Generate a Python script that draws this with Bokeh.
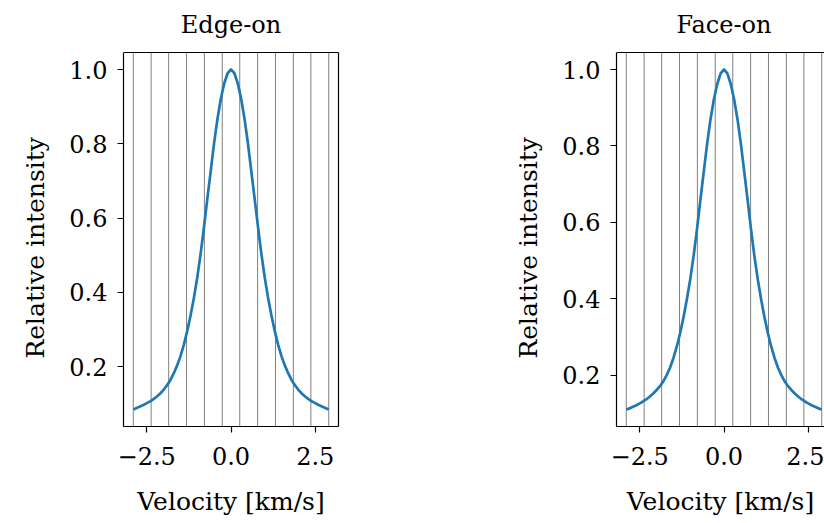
from bokeh.plotting import figure
from bokeh.layouts import row
from bokeh.models import LinearAxis, FixedTicker, Range1d, Label, Title
from bokeh.embed import file_html
from bokeh.resources import INLINE

# ---------------- data ----------------
velocity = [-2.9, -2.8, -2.7, -2.6, -2.5, -2.4, -2.3, -2.2, -2.1, -2.0,
            -1.9, -1.8, -1.7, -1.6, -1.5, -1.4, -1.3, -1.2, -1.1, -1.0,
            -0.9, -0.8, -0.7, -0.6, -0.5, -0.4, -0.3, -0.2, -0.1, 0.0,
            0.1, 0.2, 0.3, 0.4, 0.5, 0.6, 0.7, 0.8, 0.9, 1.0,
            1.1, 1.2, 1.3, 1.4, 1.5, 1.6, 1.7, 1.8, 1.9, 2.0,
            2.1, 2.2, 2.3, 2.4, 2.5, 2.6, 2.7, 2.8, 2.9]

edge_on = [0.085, 0.089, 0.093, 0.097, 0.102, 0.107, 0.113, 0.120, 0.128, 0.138,
           0.150, 0.164, 0.182, 0.203, 0.228, 0.259, 0.296, 0.338, 0.386, 0.441,
           0.505, 0.577, 0.654, 0.728, 0.803, 0.868, 0.922, 0.963, 0.990, 1.000,
           0.990, 0.963, 0.922, 0.868, 0.803, 0.728, 0.654, 0.577, 0.505, 0.441,
           0.386, 0.338, 0.296, 0.259, 0.228, 0.203, 0.182, 0.164, 0.150, 0.138,
           0.128, 0.120, 0.113, 0.107, 0.102, 0.097, 0.093, 0.089, 0.085]

face_on = [0.110, 0.113, 0.117, 0.121, 0.126, 0.131, 0.137, 0.144, 0.152, 0.161,
           0.171, 0.184, 0.200, 0.220, 0.245, 0.275, 0.311, 0.352, 0.399, 0.452,
           0.513, 0.583, 0.659, 0.733, 0.806, 0.870, 0.922, 0.962, 0.990, 1.000,
           0.990, 0.962, 0.922, 0.870, 0.806, 0.733, 0.659, 0.583, 0.513, 0.452,
           0.399, 0.352, 0.311, 0.275, 0.245, 0.220, 0.200, 0.184, 0.171, 0.161,
           0.152, 0.144, 0.137, 0.131, 0.126, 0.121, 0.117, 0.113, 0.110]

channel_edges = [-2.9, -2.37, -1.85, -1.32, -0.79, -0.26, 0.26, 0.79, 1.32, 1.85, 2.37, 2.9]

x_ticks = [-2.5, 0.0, 2.5]
x_tick_labels = ["\u22122.5", "0.0", "2.5"]
y_ticks = [0.2, 0.4, 0.6, 0.8, 1.0]
y_tick_labels = ["0.2", "0.4", "0.6", "0.8", "1.0"]

titles = ["Edge-on", "Face-on"]
x_label = "Velocity [km/s]"
y_label = "Relative intensity"

# ---------------- style ----------------
FONT = "DejaVu Serif"
FS = "24px"
LFS = "25px"
LINE_COLOR = "#1f77b4"
SPINE_W = 1.2
H = 523
BOTTOM = 97
BOX_TOP = 52          # pixels between canvas top and the top spine
FRAME_W = 215
FRAME_H = H - BOTTOM - BOX_TOP


def make_panel(title, vel, inten, width, border_left, border_right, frame_w,
               right_spine):
    lo, hi = min(inten), max(inten)
    ypad = 0.05 * (hi - lo)
    xlo, xhi = min(vel), max(vel)
    xpad = 0.05 * (xhi - xlo)
    x_start = xlo - xpad
    full_end = xhi + xpad
    x_end = x_start + (full_end - x_start) * frame_w / FRAME_W
    y_start, y_end = lo - ypad, hi + ypad
    # the plotting frame reaches the canvas top so the title can sit in it
    y_canvas_top = y_end + BOX_TOP * (y_end - y_start) / FRAME_H

    p = figure(width=width, height=H,
               x_range=Range1d(x_start, x_end), y_range=Range1d(y_start, y_canvas_top),
               output_backend="svg", toolbar_location=None,
               min_border_left=border_left, min_border_right=border_right,
               min_border_top=0, min_border_bottom=BOTTOM)
    p.outline_line_color = None
    p.grid.visible = False
    p.background_fill_color = "white"
    p.border_fill_color = "white"

    for ax, ticks, labels in ((p.xaxis[0], x_ticks, x_tick_labels),
                              (p.yaxis[0], y_ticks, y_tick_labels)):
        ax.ticker = FixedTicker(ticks=ticks)
        ax.major_label_overrides = dict(zip(ticks, labels))
        ax.major_label_text_font = FONT
        ax.major_label_text_font_size = FS
        ax.major_label_text_color = "black"
        ax.axis_line_color = "black"
        ax.axis_line_width = SPINE_W
        ax.major_tick_line_color = "black"
        ax.major_tick_line_width = SPINE_W
        ax.major_tick_out = 6
        ax.major_tick_in = 0
        ax.minor_tick_line_color = None
    xa = p.xaxis[0]
    xa.axis_label = x_label
    xa.axis_label_text_font = FONT
    xa.axis_label_text_font_size = LFS
    xa.axis_label_text_font_style = "normal"
    xa.axis_label_text_color = "black"
    xa.major_label_standoff = 14
    xa.axis_label_standoff = 19

    ya = p.yaxis[0]
    ya.bounds = (y_start, y_end)
    ya.major_label_standoff = 10

    # y label, centred on the axes box (not on the taller frame)
    p.add_layout(Title(text=y_label, align="left", offset=68, standoff=33,
                       text_font=FONT, text_font_size=LFS, text_font_style="normal",
                       text_color="black"), "left")

    if right_spine:
        rax = LinearAxis(ticker=FixedTicker(ticks=[]), bounds=(y_start, y_end),
                         major_label_text_font_size="0px",
                         major_label_standoff=0, major_tick_out=0, major_tick_in=0,
                         axis_line_color="black", axis_line_width=SPINE_W,
                         major_tick_line_color=None, minor_tick_line_color=None)
        p.add_layout(rax, "right")

    n = len(channel_edges)
    p.segment(x0=channel_edges, y0=[y_start] * n, x1=channel_edges, y1=[y_end] * n,
              line_color="gray", line_width=1)
    p.line(vel, inten, line_color=LINE_COLOR, line_width=2.7, line_join="round")
    # top spine
    p.segment(x0=[x_start], y0=[y_end], x1=[full_end], y1=[y_end],
              line_color="black", line_width=SPINE_W)

    # panel title, centred over the full axes box, just above it
    p.add_layout(Label(x=(x_start + full_end) / 2, y=y_end, y_offset=28, text=title,
                       text_font=FONT, text_font_size=FS, text_color="black",
                       text_align="center", text_baseline="alphabetic"))
    return p


p1 = make_panel(titles[0], velocity, edge_on, 412, 123, 74, FRAME_W, True)
p2 = make_panel(titles[1], velocity, face_on, 412, 204, 0, 208, False)

layout = row(p1, p2)
open("out.html", "w").write(file_html(layout, INLINE))
